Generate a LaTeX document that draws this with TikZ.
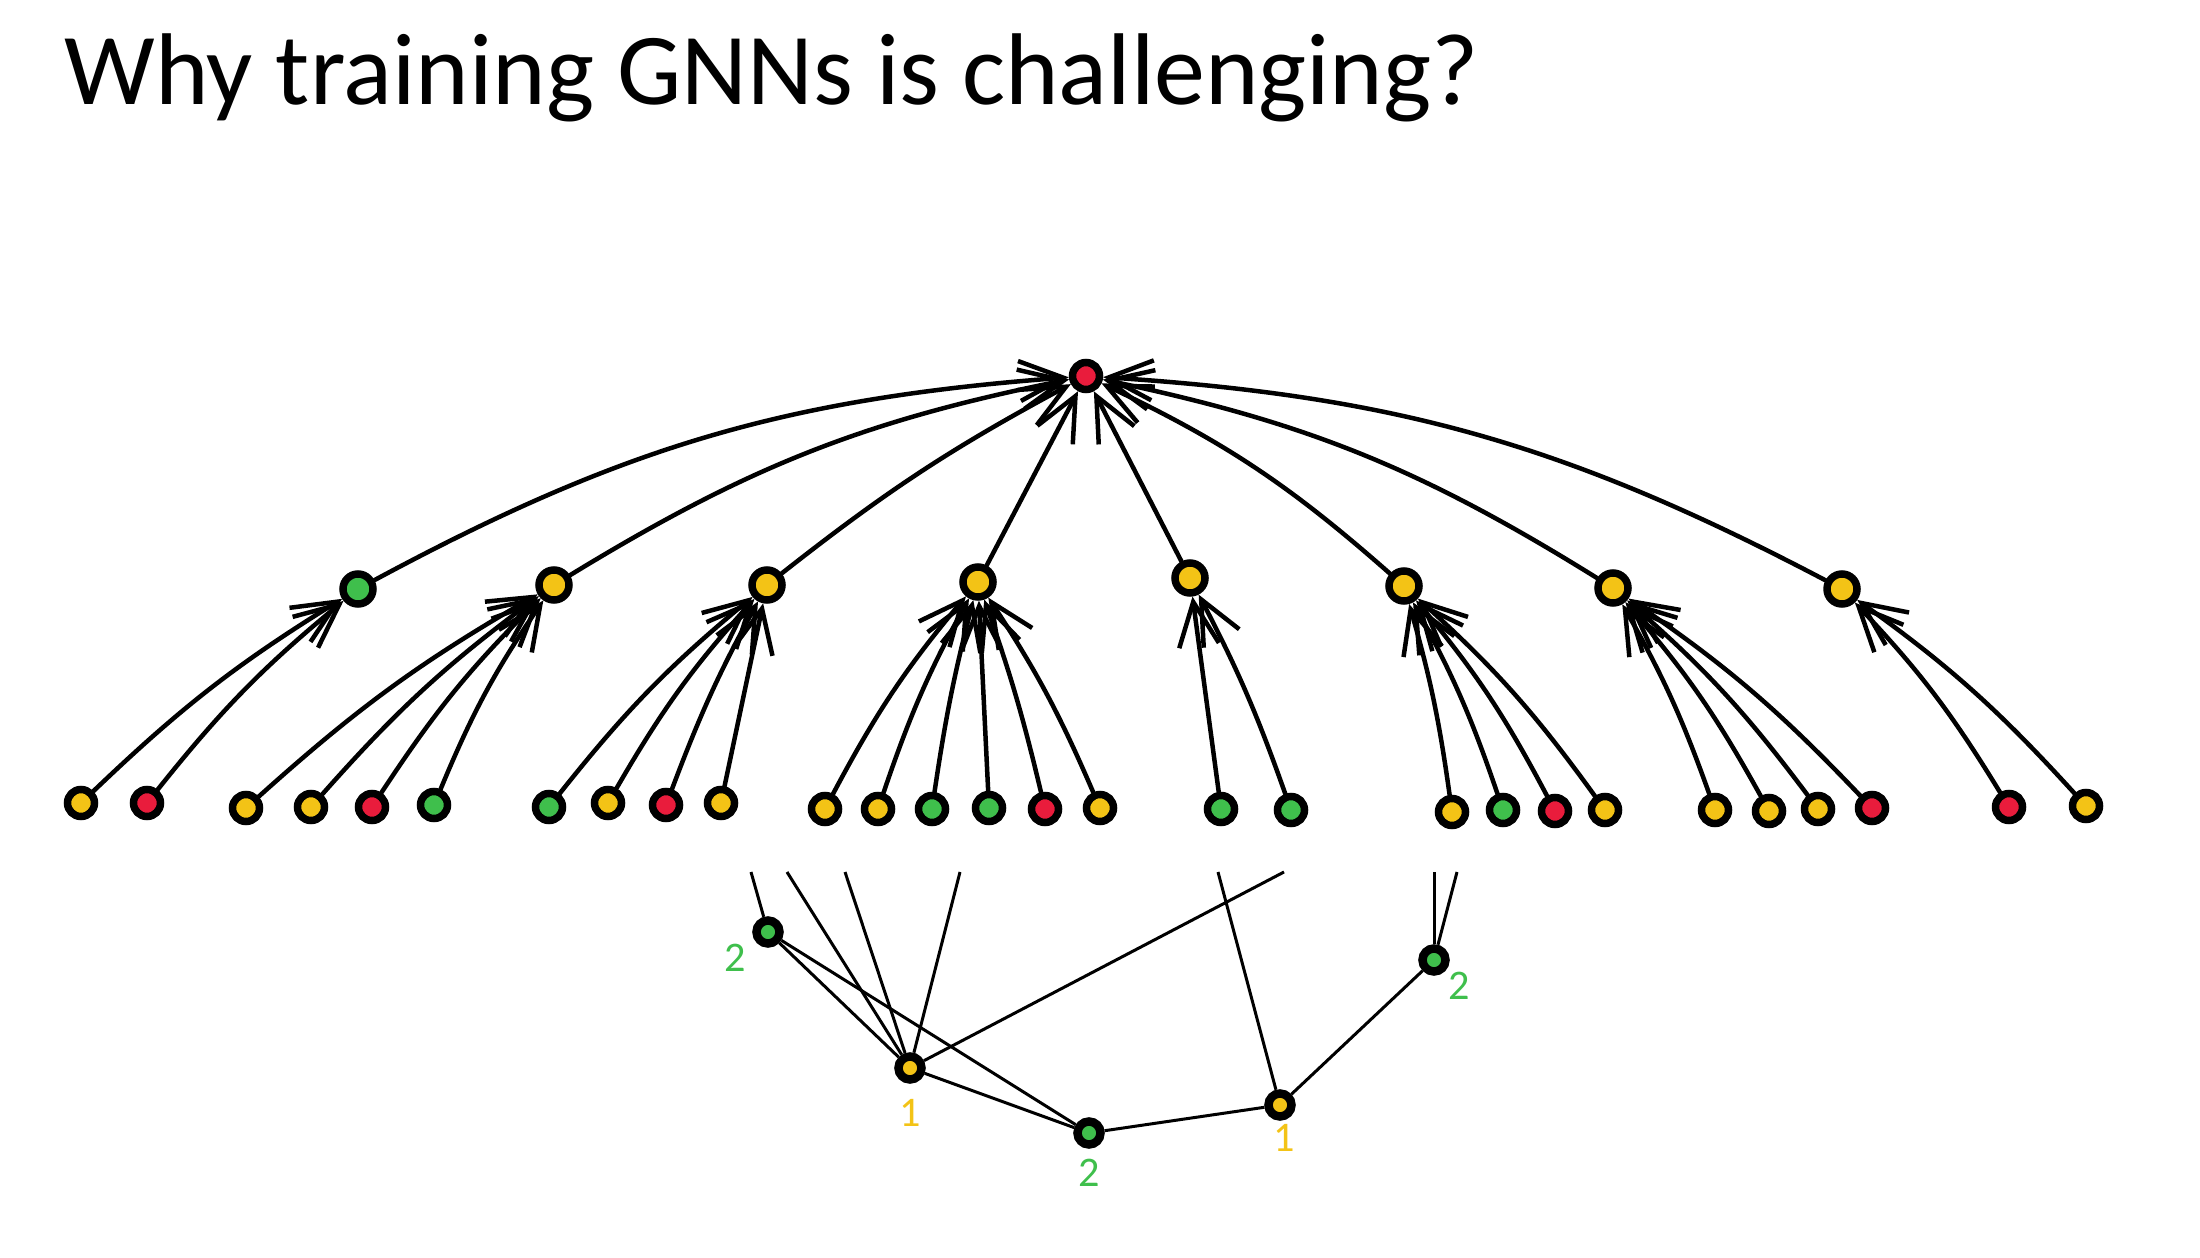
\documentclass[tikz,border=0pt]{standalone}
\usepackage{fontspec}
\setmainfont{Carlito}
\usepackage{xcolor}
\usepackage{tikz}
\usetikzlibrary{arrows.meta, positioning}

\definecolor{gnnyellow}{HTML}{F3C316}
\definecolor{gnnred}{HTML}{E91C3C}
\definecolor{gnngreen}{HTML}{3FBF4C}

\begin{document}
\begin{tikzpicture}[
    x=0.1mm, y=-0.1mm, % one unit = one pixel of the slide
    vert/.style={circle, draw=black, line width=0.75mm, minimum size=2.7mm, inner sep=0pt, fill=#1},
    hub/.style={vert=#1, minimum size=3mm},
    small/.style={vert=#1, line width=0.85mm, minimum size=2.3mm},
    edge/.style={draw, line width=0.45mm, line cap=round, -{Straight Barb[length=4.4mm, width=4mm]}},
    link/.style={draw, line width=0.3mm},
    num/.style={inner sep=0pt, font=\fontsize{12}{14}\selectfont, text=#1}
]
    \useasboundingbox (0,0) rectangle (2200,1258);

    % Title
    \node [anchor=base west, font=\fontsize{29}{35}\selectfont] (title) at (52,105) {Why training GNNs is challenging?};

    % Target node and its neighbours
    \node [vert=gnnred] (root) at (1086,376) {};
    \node [hub=gnngreen] (m1) at (358,589) {};
    \node [hub=gnnyellow] (m2) at (554,585) {};
    \node [hub=gnnyellow] (m3) at (767,585) {};
    \node [hub=gnnyellow] (m4) at (978,582) {};
    \node [hub=gnnyellow] (m5) at (1190,578) {};
    \node [hub=gnnyellow] (m6) at (1404,586) {};
    \node [hub=gnnyellow] (m7) at (1613,588) {};
    \node [hub=gnnyellow] (m8) at (1842,589) {};

    % Two-hop neighbours
    \node [vert=gnnyellow] (l1) at (81,803) {};
    \node [vert=gnnred] (l2) at (147,803) {};
    \node [vert=gnnyellow] (l3) at (246,808) {};
    \node [vert=gnnyellow] (l4) at (311,807) {};
    \node [vert=gnnred] (l5) at (372,807) {};
    \node [vert=gnngreen] (l6) at (434,805) {};
    \node [vert=gnngreen] (l7) at (549,807) {};
    \node [vert=gnnyellow] (l8) at (608,803) {};
    \node [vert=gnnred] (l9) at (666,805) {};
    \node [vert=gnnyellow] (l10) at (721,803) {};
    \node [vert=gnnyellow] (l11) at (825,809) {};
    \node [vert=gnnyellow] (l12) at (878,809) {};
    \node [vert=gnngreen] (l13) at (932,809) {};
    \node [vert=gnngreen] (l14) at (989,808) {};
    \node [vert=gnnred] (l15) at (1045,809) {};
    \node [vert=gnnyellow] (l16) at (1100,808) {};
    \node [vert=gnngreen] (l17) at (1221,809) {};
    \node [vert=gnngreen] (l18) at (1291,810) {};
    \node [vert=gnnyellow] (l19) at (1452,812) {};
    \node [vert=gnngreen] (l20) at (1503,810) {};
    \node [vert=gnnred] (l21) at (1555,811) {};
    \node [vert=gnnyellow] (l22) at (1605,810) {};
    \node [vert=gnnyellow] (l23) at (1715,810) {};
    \node [vert=gnnyellow] (l24) at (1769,811) {};
    \node [vert=gnnyellow] (l25) at (1818,809) {};
    \node [vert=gnnred] (l26) at (1872,808) {};
    \node [vert=gnnred] (l27) at (2009,807) {};
    \node [vert=gnnyellow] (l28) at (2086,806) {};

    % Messages into the target
    \draw [edge] (m1) to[bend left=12] (root);
    \draw [edge] (m2) to[bend left=10] (root);
    \draw [edge] (m3) to[bend left=5] (root);
    \draw [edge] (m4) -- (root);
    \draw [edge] (m5) -- (root);
    \draw [edge] (m6) to[bend right=8] (root);
    \draw [edge] (m7) to[bend right=10] (root);
    \draw [edge] (m8) to[bend right=12] (root);

    % Messages into the neighbours
    \draw [edge] (l1) to[bend left=6] (m1);
    \draw [edge] (l2) to[bend left=6] (m1);
    \draw [edge] (l3) to[bend left=6] (m2);
    \draw [edge] (l4) to[bend left=6] (m2);
    \draw [edge] (l5) to[bend left=6] (m2);
    \draw [edge] (l6) to[bend left=6] (m2);
    \draw [edge] (l7) to[bend left=6] (m3);
    \draw [edge] (l8) to[bend left=6] (m3);
    \draw [edge] (l9) to[bend left=4] (m3);
    \draw [edge] (l10) -- (m3);
    \draw [edge] (l11) to[bend left=6] (m4);
    \draw [edge] (l12) to[bend left=5] (m4);
    \draw [edge] (l13) to[bend left=3] (m4);
    \draw [edge] (l14) -- (m4);
    \draw [edge] (l15) to[bend right=3] (m4);
    \draw [edge] (l16) to[bend right=5] (m4);
    \draw [edge] (l17) -- (m5);
    \draw [edge] (l18) to[bend right=4] (m5);
    \draw [edge] (l19) to[bend right=4] (m6);
    \draw [edge] (l20) to[bend right=5] (m6);
    \draw [edge] (l21) to[bend right=6] (m6);
    \draw [edge] (l22) to[bend right=6] (m6);
    \draw [edge] (l23) to[bend right=5] (m7);
    \draw [edge] (l24) to[bend right=6] (m7);
    \draw [edge] (l25) to[bend right=6] (m7);
    \draw [edge] (l26) to[bend right=6] (m7);
    \draw [edge] (l27) to[bend right=6] (m8);
    \draw [edge] (l28) to[bend right=6] (m8);

    % Part of the input graph
    \node [small=gnngreen] (ga) at (768,932) {};
    \node [small=gnnyellow] (gb) at (910,1068) {};
    \node [small=gnngreen] (gc) at (1089,1133) {};
    \node [small=gnnyellow] (gd) at (1280,1105) {};
    \node [small=gnngreen] (ge) at (1434,960) {};

    \node [num=gnngreen, below left=0mm and 1mm of ga] (na) {2};
    \node [num=gnnyellow, below=1.5mm of gb] (nb) {1};
    \node [num=gnngreen, below=1mm of gc] (nc) {2};
    \node [num=gnnyellow, below=0.3mm of gd, xshift=0.4mm] (nd) {1};
    \node [num=gnngreen, below right=0mm and 0.3mm of ge] (ne) {2};

    % Cut ends of the edges
    \coordinate (c1) at (751,872);
    \coordinate (c2) at (787,872);
    \coordinate (c3) at (845,872);
    \coordinate (c4) at (960,872);
    \coordinate (c5) at (1284,872);
    \coordinate (c6) at (1218,872);
    \coordinate (c7) at (1434,872);
    \coordinate (c8) at (1457,872);

    \path [link] (ga) -- (c1);
    \path [link] (gb) -- (c2);
    \path [link] (gb) -- (c3);
    \path [link] (gb) -- (c4);
    \path [link] (gb) -- (c5);
    \path [link] (ga) -- (gb);
    \path [link] (ga) -- (gc);
    \path [link] (gb) -- (gc);
    \path [link] (gd) -- (c6);
    \path [link] (gd) -- (gc);
    \path [link] (gd) -- (ge);
    \path [link] (ge) -- (c7);
    \path [link] (ge) -- (c8);
\end{tikzpicture}
\end{document}
